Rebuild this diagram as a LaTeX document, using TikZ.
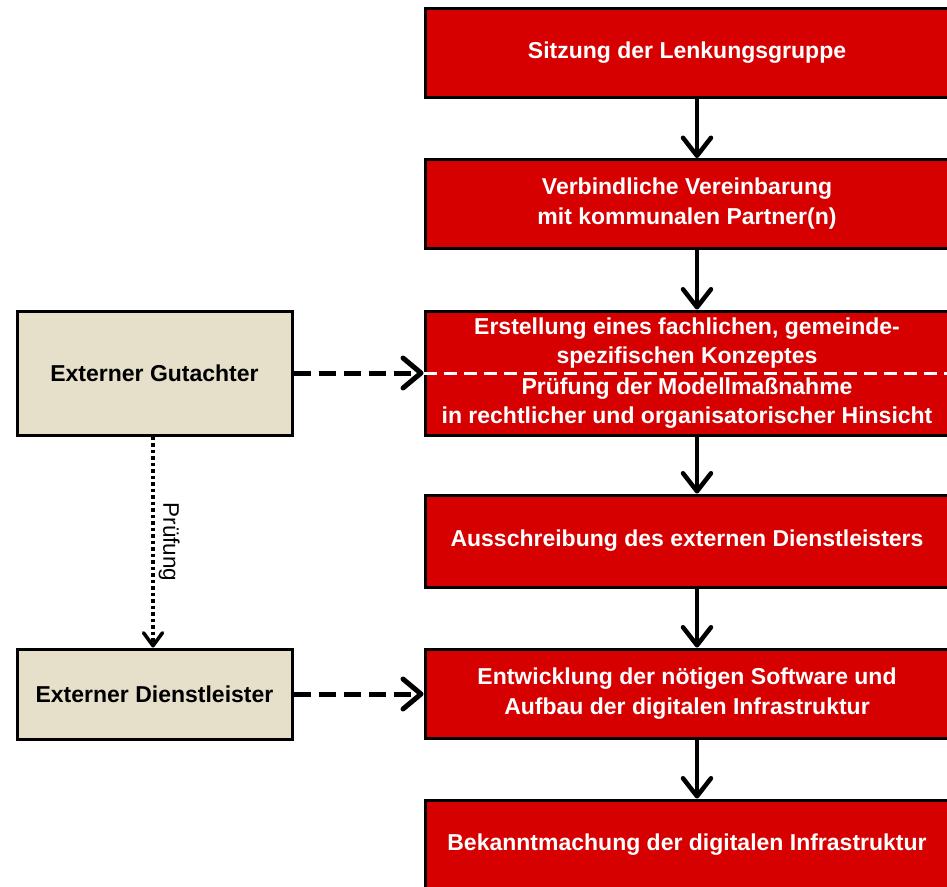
\documentclass[tikz,border=0pt]{standalone}
\usepackage{fontspec}
\setmainfont{Liberation Sans}
\usetikzlibrary{arrows.meta}
\definecolor{boxred}{HTML}{D60000}
\definecolor{beige}{HTML}{E6DFCA}
\begin{document}
\begin{tikzpicture}[x=1pt,y=-1pt,
  redbox/.style={draw=black, line width=3pt, fill=boxred, text=white,
    font=\fontsize{23}{30}\selectfont\bfseries, align=center, inner sep=0pt,
    minimum width=524pt},
  sidebox/.style={draw=black, line width=3pt, fill=beige, text=black,
    font=\fontsize{23}{29}\selectfont\bfseries, align=center, inner sep=0pt,
    minimum width=275pt},
  flow/.style={line width=3.5pt,
    -{Straight Barb[length=18pt,width=28pt,line width=4.5pt,round]}},
  feed/.style={line width=5pt, dash pattern=on 17pt off 8pt,
    -{Straight Barb[length=18pt,width=30pt,line width=5pt,round]}},
  check/.style={line width=3.5pt, dash pattern=on 3.5pt off 3pt,
    -{Straight Barb[length=13pt,width=19pt,line width=3.5pt,round]}},
  sep/.style={draw=white, line width=3pt, dash pattern=on 13pt off 7pt},
  lbl/.style={font=\fontsize{22.5}{27}\selectfont, inner sep=4pt}
]
\useasboundingbox (0,0) rectangle (947,886);

\node[redbox, minimum height=89pt] (b1) at (687,52.5) {Sitzung der Lenkungsgruppe};
\node[redbox, minimum height=89pt] (b2) at (687,204) {Verbindliche Vereinbarung\\mit kommunalen Partner(n)};
\node[redbox, minimum height=124pt, font=\fontsize{23}{29}\selectfont\bfseries] (b3) at (687,373)
  {Erstellung eines fachlichen, gemeinde-\\spezifischen Konzeptes\\[2pt]Prüfung der Modellmaßnahme\\in rechtlicher und organisatorischer Hinsicht};
\node[redbox, minimum height=92pt] (b4) at (687,541) {Ausschreibung des externen Dienstleisters};
\node[redbox, minimum height=89pt] (b5) at (687,693.5) {Entwicklung der nötigen Software und\\Aufbau der digitalen Infrastruktur};
\node[redbox, minimum height=90pt] (b6) at (687,845) {Bekanntmachung der digitalen Infrastruktur};

\node[sidebox, minimum height=124pt] (g) at (154.5,373) {Externer Gutachter};
\node[sidebox, minimum height=90pt] (d) at (154.5,694) {Externer Dienstleister};

\draw[sep] (b3.west) -- (b3.east);

\coordinate (ax) at (697,0);
\draw[flow] (b1.south -| ax) -- (b2.north -| ax);
\draw[flow] (b2.south -| ax) -- (b3.north -| ax);
\draw[flow] (b3.south -| ax) -- (b4.north -| ax);
\draw[flow] (b4.south -| ax) -- (b5.north -| ax);
\draw[flow] (b5.south -| ax) -- (b6.north -| ax);

\draw[feed] (g.east) -- (b3.west);
\draw[feed] (d.east) -- (b5.west |- d.east);

\coordinate (cx) at (153,0);
\draw[check] (g.south -| cx) -- (d.north -| cx)
  node[lbl, midway, rotate=-90, anchor=south] {Prüfung};
\end{tikzpicture}
\end{document}
